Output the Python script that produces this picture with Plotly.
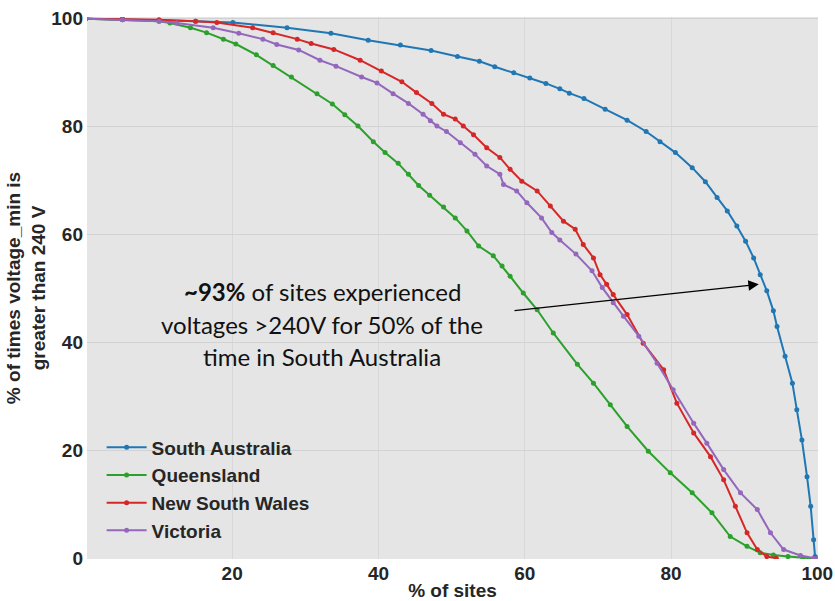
import plotly.graph_objects as go

# ---- data ----
sa_x = [0, 5, 10, 15, 20.1, 27.5, 33.5, 38.6, 43.0, 47.2, 50.8, 53.8, 55.9, 58.5, 60.7, 62.9,
        64.8, 66.1, 68.1, 71.0, 74.0, 76.6, 78.5, 80.6, 82.9, 84.7, 86.3, 87.7, 89.0, 90.2,
        91.3, 92.2, 93.1, 94.0, 94.5, 95.6, 96.6, 97.2, 97.9, 98.6, 99.1, 99.5, 99.7, 100]
sa_y = [100, 99.9, 99.7, 99.5, 99.3, 98.3, 97.3, 96.0, 95.1, 94.1, 93.0, 92.1, 91.1, 90.0, 89.0, 88.0,
        87.0, 86.2, 85.2, 83.2, 81.2, 79.1, 77.2, 75.2, 72.4, 69.8, 66.9, 64.4, 61.6, 58.8,
        55.7, 52.6, 49.6, 45.9, 43.0, 37.5, 32.5, 27.6, 22.0, 15.2, 9.7, 3.5, 0.4, 0]

qld_x = [0, 5, 10, 11.5, 14.3, 16.5, 18.8, 20.5, 23.3, 25.6, 28.1, 31.6, 33.7, 35.4, 37.2, 39.3,
         40.9, 42.7, 44.1, 45.5, 47.0, 48.9, 50.5, 52.1, 53.7, 55.7, 56.9, 58.0, 59.8, 61.7,
         63.9, 67.2, 69.4, 71.7, 74.0, 76.9, 79.9, 82.9, 85.6, 88.1, 90.4, 92.2, 94, 96, 98, 100]
qld_y = [100, 99.8, 99.5, 99.2, 98.3, 97.4, 96.2, 95.3, 93.3, 91.3, 89.2, 86.1, 84.2, 82.2, 80.1, 77.2,
         75.2, 73.2, 71.2, 69.1, 67.3, 65.1, 63.1, 60.7, 57.9, 56.1, 54.2, 52.3, 49.2, 46.1,
         41.8, 36.0, 32.5, 28.5, 24.5, 19.9, 15.9, 12.2, 8.5, 4.1, 2.3, 1.1, 0.7, 0.4, 0.2, 0]

nsw_x = [0, 5, 10, 15, 17.9, 22.8, 25.6, 28.9, 30.8, 33.9, 37.5, 40.4, 43.2, 45.2, 47.3, 48.9,
         50.5, 51.6, 53.0, 54.8, 56.6, 58.0, 59.6, 61.7, 63.5, 65.3, 66.9, 68.0, 69.4, 70.3,
         71.2, 72.1, 74.0, 76.2, 79.0, 80.8, 83.1, 85.4, 87.2, 88.8, 90.4, 91.8, 93.1, 94.4]
nsw_y = [100, 99.9, 99.8, 99.5, 99.3, 98.3, 97.4, 96.2, 95.4, 94.3, 92.3, 90.3, 88.3, 86.3, 84.3, 82.3,
         81.4, 80.1, 78.5, 76.1, 74.3, 72.1, 69.9, 68.1, 65.3, 62.5, 61.0, 58.2, 55.7, 52.6,
         50.8, 48.9, 45.2, 39.9, 35.0, 28.8, 23.3, 18.9, 14.6, 9.7, 4.8, 1.7, 0.4, 0.1]

vic_x = [0, 5, 10, 12.4, 17.4, 20.9, 24.2, 26.1, 29.1, 32.0, 34.2, 37.7, 39.8, 42.0, 44.1, 46.1,
         47.1, 48.0, 49.3, 51.2, 53.2, 54.8, 56.6, 57.1, 58.9, 60.3, 62.3, 63.7, 64.8, 67.0,
         69.2, 70.6, 72.1, 73.5, 75.6, 78.1, 80.3, 83.1, 84.9, 87.2, 89.5, 91.8, 93.6, 95.4,
         97.7, 99.5, 100]
vic_y = [100, 99.8, 99.5, 99.2, 98.3, 97.3, 96.2, 95.2, 94.2, 92.3, 91.2, 89.2, 88.1, 86.1, 84.3, 82.3,
         81.1, 80.1, 79.1, 77.0, 74.9, 72.7, 71.2, 69.3, 68.1, 65.9, 63.1, 60.4, 59.0, 56.4,
         53.3, 50.2, 47.4, 44.9, 41.2, 36.2, 31.3, 25.1, 21.4, 16.5, 12.2, 9.1, 4.8, 1.7,
         0.6, 0.1, 0]

series = [
    ("South Australia", sa_x, sa_y, "#1f77b4"),
    ("Queensland", qld_x, qld_y, "#2ca02c"),
    ("New South Wales", nsw_x, nsw_y, "#d62728"),
    ("Victoria", vic_x, vic_y, "#9467bd"),
]

x_ticks = [20, 40, 60, 80, 100]
y_ticks = [0, 20, 40, 60, 80, 100]

note_lines = ["<b>~93%</b> of sites experienced",
              "voltages >240V for 50% of the",
              "time in South Australia"]
note_x = 32.3
note_y = [49.5, 43.3, 37.5]
arrow_tail = (58.4, 45.9)
arrow_head = (92.0, 50.8)

# ---- figure ----
fig = go.Figure()
for name, xs, ys, col in series:
    fig.add_trace(go.Scatter(
        x=xs, y=ys, name=f"<b>{name}</b>", mode="lines+markers",
        line=dict(color=col, width=2),
        marker=dict(color=col, size=5),
    ))

FONT = "Liberation Sans, Arial, sans-serif"
DARK = "#262626"

for txt, yy in zip(note_lines, note_y):
    fig.add_annotation(x=note_x, y=yy, xref="x", yref="y", text=txt, showarrow=False,
                       font=dict(family="Lato, Open Sans, sans-serif", size=24, color="#111111"),
                       xanchor="center", yanchor="middle")

fig.add_annotation(x=arrow_head[0], y=arrow_head[1], ax=arrow_tail[0], ay=arrow_tail[1],
                   xref="x", yref="y", axref="x", ayref="y", text="", showarrow=True,
                   arrowhead=2, arrowsize=1.6, arrowwidth=1.3, arrowcolor="#000000")

fig.update_layout(
    width=835, height=601,
    margin=dict(l=87, r=17, t=17, b=42, autoexpand=False),
    paper_bgcolor="white", plot_bgcolor="#e5e5e5",
    showlegend=True,
    legend=dict(x=0.02, y=0.241, xanchor="left", yanchor="top",
                bgcolor="rgba(0,0,0,0)", itemwidth=40,
                font=dict(family=FONT, size=19, color=DARK),
                tracegroupgap=0),
    font=dict(family=FONT, size=19, color=DARK),
)
fig.update_xaxes(range=[0.15, 100.1], tickvals=x_ticks,
                 ticktext=[f"<b>{v}</b>" for v in x_ticks],
                 showgrid=True, gridcolor="#d8d8d8", automargin=False,
                 zeroline=False, showline=False, ticklabelstandoff=1,
                 tickfont=dict(family=FONT, size=19, color=DARK),
                 title=dict(text="<b>% of sites</b>", standoff=2,
                            font=dict(family=FONT, size=19, color=DARK)))
fig.update_yaxes(range=[-0.05, 100.3], tickvals=y_ticks,
                 ticktext=[f"<b>{v}</b>" for v in y_ticks],
                 showgrid=True, gridcolor="#d2d2d2", automargin=False,
                 zeroline=False, showline=False, ticklabelstandoff=3,
                 tickfont=dict(family=FONT, size=19, color=DARK),
                 title=dict(text="<b>% of times voltage_min is<br>greater than 240 V</b>", standoff=0,
                            font=dict(family=FONT, size=19, color=DARK)))

fig.write_html("out.html", config={"displayModeBar": False},
               post_script="document.body.style.margin='0';document.body.style.overflow='hidden';")
